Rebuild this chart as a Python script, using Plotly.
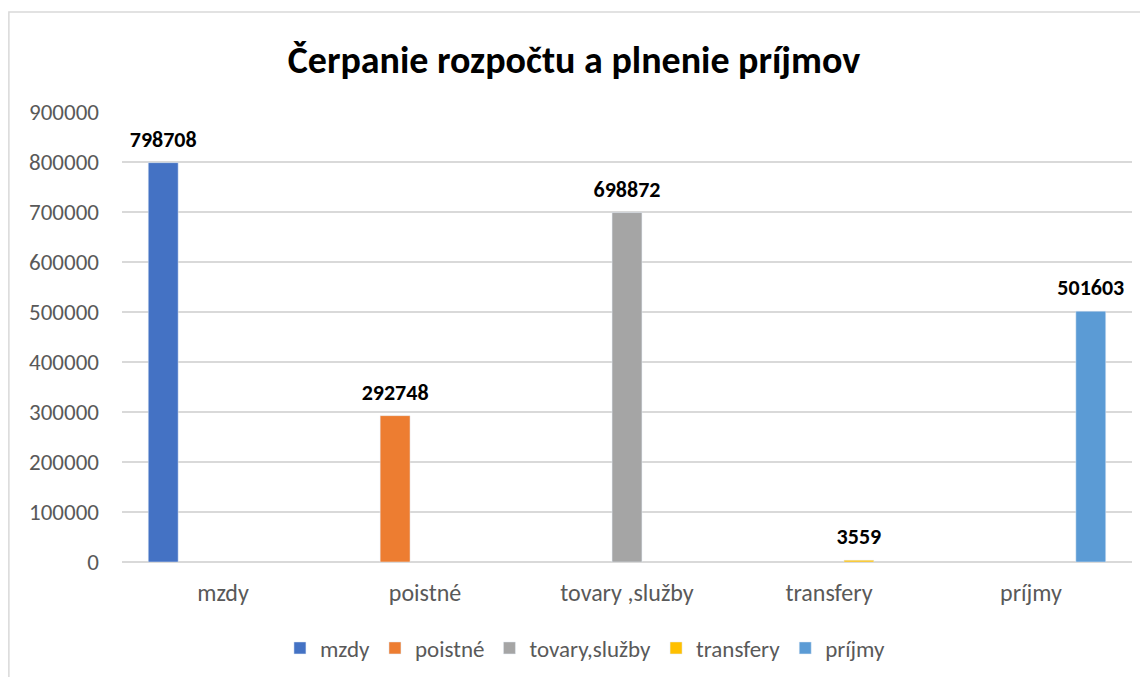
import plotly.graph_objects as go

categories = ['mzdy', 'poistné', 'tovary ,služby', 'transfery', 'príjmy']
series_names = ['mzdy', 'poistné', 'tovary,služby', 'transfery', 'príjmy']
values = [798708, 292748, 698872, 3559, 501603]
colors = ['#4472C4', '#ED7D31', '#A5A5A5', '#FFC000', '#5B9BD5']
y_ticks = [0, 100000, 200000, 300000, 400000, 500000, 600000, 700000, 800000, 900000]

FONT = 'Carlito, Lato, sans-serif'

fig = go.Figure()

# each series only has a value in its own category
for i, name in enumerate(series_names):
    ys = [values[i] if j == i else None for j in range(len(categories))]
    txt = [str(values[i]) if j == i else '' for j in range(len(categories))]
    fig.add_trace(go.Bar(x=categories, y=ys, name=name, marker_color=colors[i],
                         offsetgroup=str(i), hoverinfo='y'))
    # value labels sit a bit higher than plotly's default outside text
    fig.add_trace(go.Scatter(x=categories, y=ys, mode='markers+text', text=txt,
                             textposition='top center', offsetgroup=str(i),
                             marker=dict(size=15, opacity=0), showlegend=False,
                             hoverinfo='skip', cliponaxis=False,
                             textfont=dict(family=FONT, size=22, color='#000000', weight='bold')))

# outer chart border (page has an 8px body margin)
fig.add_shape(type='rect', xref='paper', yref='paper',
              x0=-0.112, x1=1.013, y0=-0.28, y1=1.222,
              line=dict(color='#d9d9d9', width=1.5), fillcolor='rgba(0,0,0,0)', layer='below')

fig.update_layout(
    width=1148, height=677,
    margin=dict(l=114, r=24, t=104, b=123),
    paper_bgcolor='white', plot_bgcolor='white',
    font=dict(family=FONT, size=22, color='#595959'),
    barmode='group', bargap=0.26, bargroupgap=0,
    scattermode='group', scattergap=0.26,
    title=dict(text='<b>Čerpanie rozpočtu a plnenie príjmov</b>',
               x=0.493, xanchor='center', y=1 - 52 / 677, yanchor='middle',
               font=dict(family=FONT, size=38, color='#000000')),
    legend=dict(orientation='h', x=0.503, xref='container', xanchor='center',
                y=1 - 640 / 677, yref='container', yanchor='middle',
                font=dict(family=FONT, size=23, color='#595959'),
                itemwidth=30, traceorder='normal'),
    xaxis=dict(showline=False, ticks='', ticklabelstandoff=14,
               tickfont=dict(family=FONT, size=24, color='#595959')),
    yaxis=dict(range=[0, 900000], tickvals=y_ticks, ticktext=[str(v) for v in y_ticks],
               showgrid=True, gridcolor='#d9d9d9', gridwidth=1.5,
               zeroline=True, zerolinecolor='#d9d9d9', zerolinewidth=1.5,
               ticks='', ticklabelstandoff=22,
               tickfont=dict(family=FONT, size=23, color='#595959')),
)

fig.write_html('out.html')
